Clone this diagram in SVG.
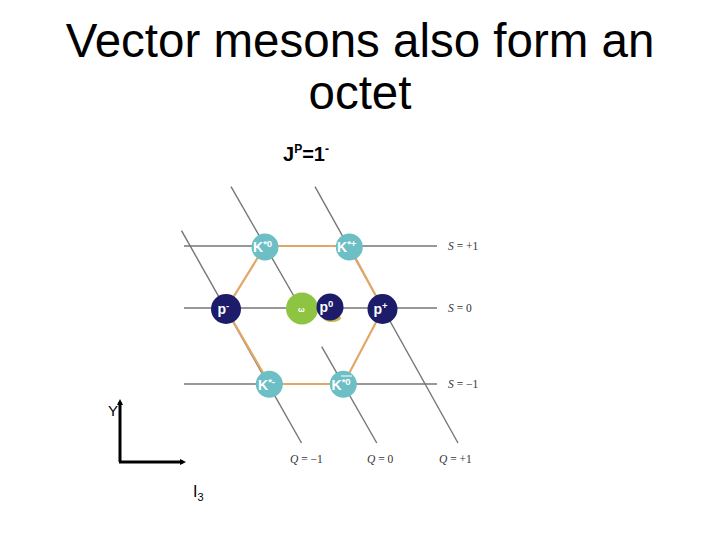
<svg xmlns="http://www.w3.org/2000/svg" width="720" height="540" viewBox="0 0 720 540">
<style>
.grid{stroke:#767676;stroke-width:1.4;fill:none}
.hex{stroke:#E2A766;stroke-width:2.2;fill:none}
.kaon{fill:#6DBFC6}
.rho{fill:#1C1C6A}
.omega{fill:#8DC542}
.lbl{font-family:"Liberation Sans",Arial,sans-serif;font-weight:bold;fill:#ffffff;font-size:14px}
.sup{font-size:9.5px}
.s{font-family:"Liberation Serif","Times New Roman",serif;font-size:11.5px;fill:#333}
.title{font-family:"Liberation Sans",Arial,sans-serif;font-size:47.5px;fill:#000;text-anchor:middle}
.ax{stroke:#000;stroke-width:3;fill:none}
</style>
<defs>
<marker id="arr" markerWidth="6" markerHeight="6" refX="3" refY="3" orient="auto" markerUnits="userSpaceOnUse">
<path d="M0,0 L6,3 L0,6 z" fill="#000"/>
</marker>
</defs>
<rect width="720" height="540" fill="#ffffff"/>
<text class="title" x="360" y="57">Vector mesons also form an</text>
<text class="title" x="360" y="109">octet</text>
<text x="283" y="161" style="font-family:'Liberation Sans',Arial,sans-serif;font-size:20px;font-weight:bold;fill:#000">J<tspan dy="-8" font-size="12">P</tspan><tspan dy="8">=1</tspan><tspan dy="-8" font-size="12">-</tspan></text>
<g id="connectors">
<line class="grid" x1="184" y1="246" x2="437" y2="246"/>
<line class="grid" x1="184" y1="308" x2="437" y2="308"/>
<line class="grid" x1="184" y1="384" x2="437" y2="384"/>
<line class="grid" x1="181.5" y1="230.7" x2="301.5" y2="443"/>
<line class="grid" x1="231" y1="186.7" x2="299" y2="305"/>
<line class="grid" x1="321.7" y1="346.7" x2="376.8" y2="443"/>
<line class="grid" x1="315" y1="186.7" x2="458" y2="443"/>
<polygon class="hex" points="265,246 349,246 383,309 343.5,384 269.5,384 226,309"/>
</g>
<g id="labels-s">
<text class="s" x="448" y="250"><tspan font-style="italic">S</tspan> = +1</text>
<text class="s" x="448" y="312"><tspan font-style="italic">S</tspan> = 0</text>
<text class="s" x="448" y="388"><tspan font-style="italic">S</tspan> = −1</text>
<text class="s" x="290" y="463"><tspan font-style="italic">Q</tspan> = −1</text>
<text class="s" x="367" y="463"><tspan font-style="italic">Q</tspan> = 0</text>
<text class="s" x="439" y="463"><tspan font-style="italic">Q</tspan> = +1</text>
</g>
<g id="K0">
<circle class="kaon" cx="265" cy="247" r="13.5"/>
<text class="lbl" x="253" y="252">K<tspan class="sup" dy="-5">*0</tspan></text>
</g>
<g id="Kplus">
<circle class="kaon" cx="349.3" cy="247" r="13.5"/>
<text class="lbl" x="337" y="252">K<tspan class="sup" dy="-5">*+</tspan></text>
</g>
<g id="rhominus">
<circle class="rho" cx="226" cy="309" r="15"/>
<text class="lbl" x="217.5" y="314">p<tspan class="sup" dy="-5">-</tspan></text>
</g>
<g id="omega">
<circle class="omega" cx="302" cy="308.5" r="16"/>
<text class="lbl" x="298" y="312" style="font-size:8px">ω</text>
</g>
<g id="rho0">
<ellipse cx="332" cy="318" rx="9" ry="4" fill="#C9B84A"/>
<circle class="rho" cx="330" cy="307" r="13.5"/>
<text class="lbl" x="319.5" y="312">p<tspan class="sup" dy="-5">0</tspan></text>
</g>
<g id="rhoplus">
<circle class="rho" cx="382.5" cy="309" r="15"/>
<text class="lbl" x="373.5" y="314">p<tspan class="sup" dy="-5">+</tspan></text>
</g>
<g id="Kminus">
<circle class="kaon" cx="269.3" cy="384.3" r="13.5"/>
<text class="lbl" x="258" y="389.5">K<tspan class="sup" dy="-5">*-</tspan></text>
</g>
<g id="K0bar">
<circle class="kaon" cx="343.3" cy="384.3" r="13.5"/>
<text class="lbl" x="331.5" y="389.5">K<tspan class="sup" dy="-5">*0</tspan></text>
<line x1="341" y1="376" x2="352" y2="376" stroke="#fff" stroke-width="1"/>
</g>
<g id="axes">
<line class="ax" x1="120" y1="462" x2="120" y2="402" marker-end="url(#arr)"/>
<line class="ax" x1="119" y1="462" x2="183" y2="462" marker-end="url(#arr)"/>
<text x="108" y="416" style="font-family:'Liberation Sans',Arial,sans-serif;font-size:15px;fill:#000">Y</text>
<text x="193" y="497" style="font-family:'Liberation Sans',Arial,sans-serif;font-size:16px;fill:#000">I<tspan dy="4" font-size="11">3</tspan></text>
</g>
</svg>
